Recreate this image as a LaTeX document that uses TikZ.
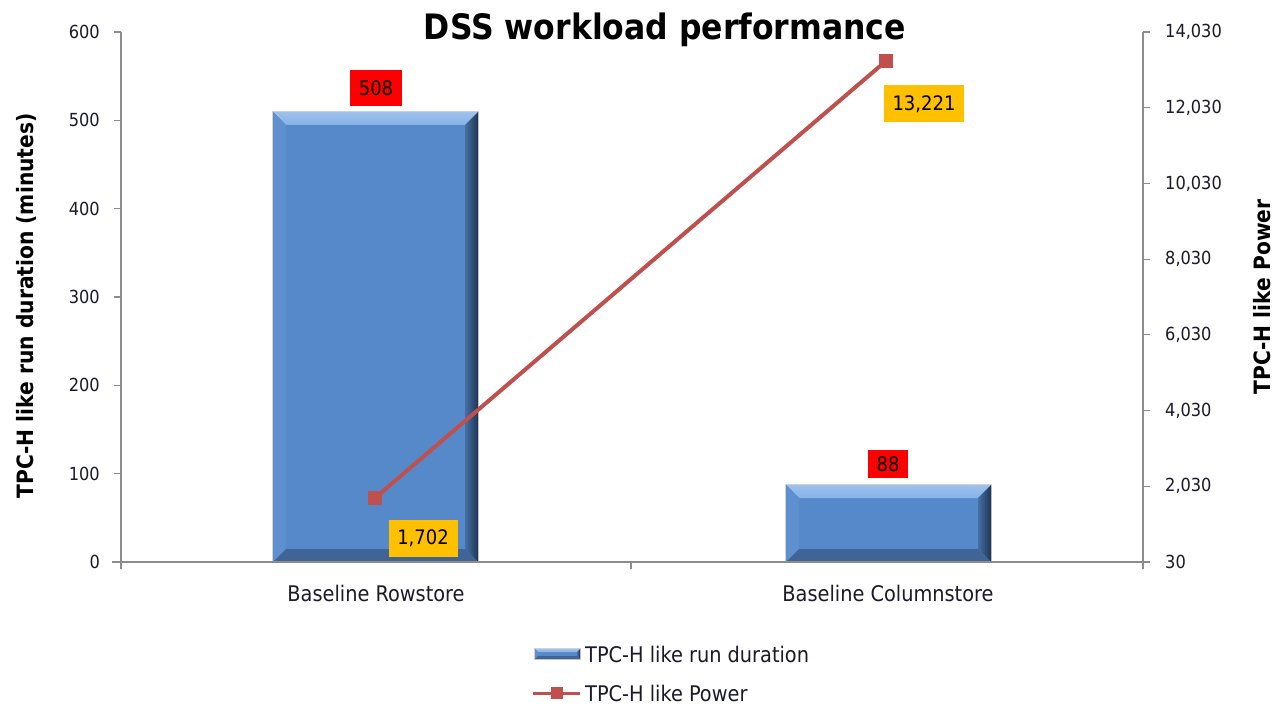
\documentclass[tikz,border=0pt]{standalone}
\usepackage{fontspec}
\setmainfont{DejaVu Sans Condensed}
\usetikzlibrary{calc}
\definecolor{barmid}{HTML}{5689C9}
\definecolor{bartop}{HTML}{86B2E8}
\definecolor{barleft}{HTML}{5E90CF}
\definecolor{barright}{HTML}{1F3552}
\definecolor{barbot}{HTML}{3E6596}
\definecolor{linered}{HTML}{C0504D}
\definecolor{lblred}{HTML}{FF0000}
\definecolor{lblgold}{HTML}{FFC000}
\definecolor{axisgray}{HTML}{8C8C8C}
\definecolor{txt}{HTML}{1A1A2A}
% beveled column: #1 left, #2 right, #3 top, #4 bottom, #5 bevel size
\newcommand\bevelbar[5]{%
  \fill[gray!35] (#1-1,#3-1) rectangle (#2+1,#4+1);
  \fill[barmid] (#1,#3) rectangle (#2,#4);
  \shade[top color=bartop!80!white, bottom color=bartop]
    (#1,#3) -- (#2,#3) -- (#2-#5,#3+#5) -- (#1+#5,#3+#5) -- cycle;
  \fill[barleft] (#1,#3) -- (#1+#5,#3+#5) -- (#1+#5,#4-#5) -- (#1,#4) -- cycle;
  \shade[left color=barmid!70!barright, right color=barright]
    (#2,#3) -- (#2,#4) -- (#2-#5,#4-#5) -- (#2-#5,#3+#5) -- cycle;
  \fill[barbot] (#1,#4) -- (#2,#4) -- (#2-#5,#4-#5) -- (#1+#5,#4-#5) -- cycle;
}
\tikzset{
  ticklbl/.style={font=\fontsize{18}{20}\selectfont, text=txt, inner sep=0pt},
  axtitle/.style={font=\fontsize{22.5}{24}\selectfont\bfseries, text=black, inner sep=0pt},
  catlbl/.style={font=\fontsize{21.5}{24}\selectfont, text=txt, inner sep=0pt},
  datalbl/.style={font=\fontsize{20}{22}\selectfont, text=black, inner sep=0pt, minimum height=36pt},
  marker/.style={fill=linered, minimum size=14pt, inner sep=0pt, draw=none},
  axisline/.style={draw=axisgray, line width=1.2pt},
}
\begin{document}
\begin{tikzpicture}[x=1pt,y=-1pt]
\useasboundingbox[fill=white] (0,0) rectangle (1278,706);

% title
\node[font=\fontsize{35}{38}\selectfont\bfseries, inner sep=0pt] (title) at (665,30) {DSS workload performance};

% columns
\bevelbar{273}{478}{112}{562}{13}
\bevelbar{786}{991}{485}{562}{13}

% axes
\draw[axisline] (121,32) -- (121,562);
\draw[axisline] (1143,32) -- (1143,562);
\draw[axisline] (112,562) -- (1150,562);
\foreach \x in {121,631,1143} \draw[axisline] (\x,562) -- (\x,569);
\foreach \i/\v in {0/0,1/100,2/200,3/300,4/400,5/500,6/600} {
  \draw[axisline] (114,{562-\i*88.33}) -- (121,{562-\i*88.33});
  \node[ticklbl, anchor=east] at (100,{562-\i*88.33}) {\v};
}
\foreach \i/\v in {0/30,1/{2,030},2/{4,030},3/{6,030},4/{8,030},5/{10,030},6/{12,030},7/{14,030}} {
  \draw[axisline] (1143,{562-\i*75.71}) -- (1150,{562-\i*75.71});
  \node[ticklbl, anchor=west] at (1165,{562-\i*75.71}) {\v};
}

% axis titles
\node[axtitle, rotate=90] (ytitle) at (26,306) {TPC-H like run duration (minutes)};
\node[axtitle, rotate=90] (y2title) at (1262,297) {TPC-H like Power};

% category labels
\node[catlbl] (cat1) at (376,593) {Baseline Rowstore};
\node[catlbl] (cat2) at (888,593) {Baseline Columnstore};

% power series
\node[marker] (m1) at (375,498) {};
\node[marker] (m2) at (886,61) {};
\draw[linered, line width=4pt] (m1.center) -- (m2.center);
\node[marker] at (m1) {};
\node[marker] at (m2) {};

% data labels
\node[datalbl, fill=lblred, minimum width=52pt] (d1) at (376,88) {508};
\node[datalbl, fill=lblred, minimum width=40pt, minimum height=28pt] (d2) at (888,464) {88};
\node[datalbl, fill=lblgold, minimum width=69pt, minimum height=37pt] (d3) at (423,538) {1,702};
\node[datalbl, fill=lblgold, minimum width=80pt, minimum height=37pt] (d4) at (924,104) {13,221};

% legend
\bevelbar{535}{580}{649}{659}{3}
\node[catlbl, anchor=west] (leg1) at (585,654) {TPC-H like run duration};
\coordinate (la) at (533,693);
\coordinate (lb) at (580,693);
\draw[linered, line width=3pt] (la) -- (lb);
\node[marker, minimum size=12pt] (lm) at (557,693) {};
\node[catlbl, anchor=west] (leg2) at (585,693) {TPC-H like Power};
\end{tikzpicture}
\end{document}
